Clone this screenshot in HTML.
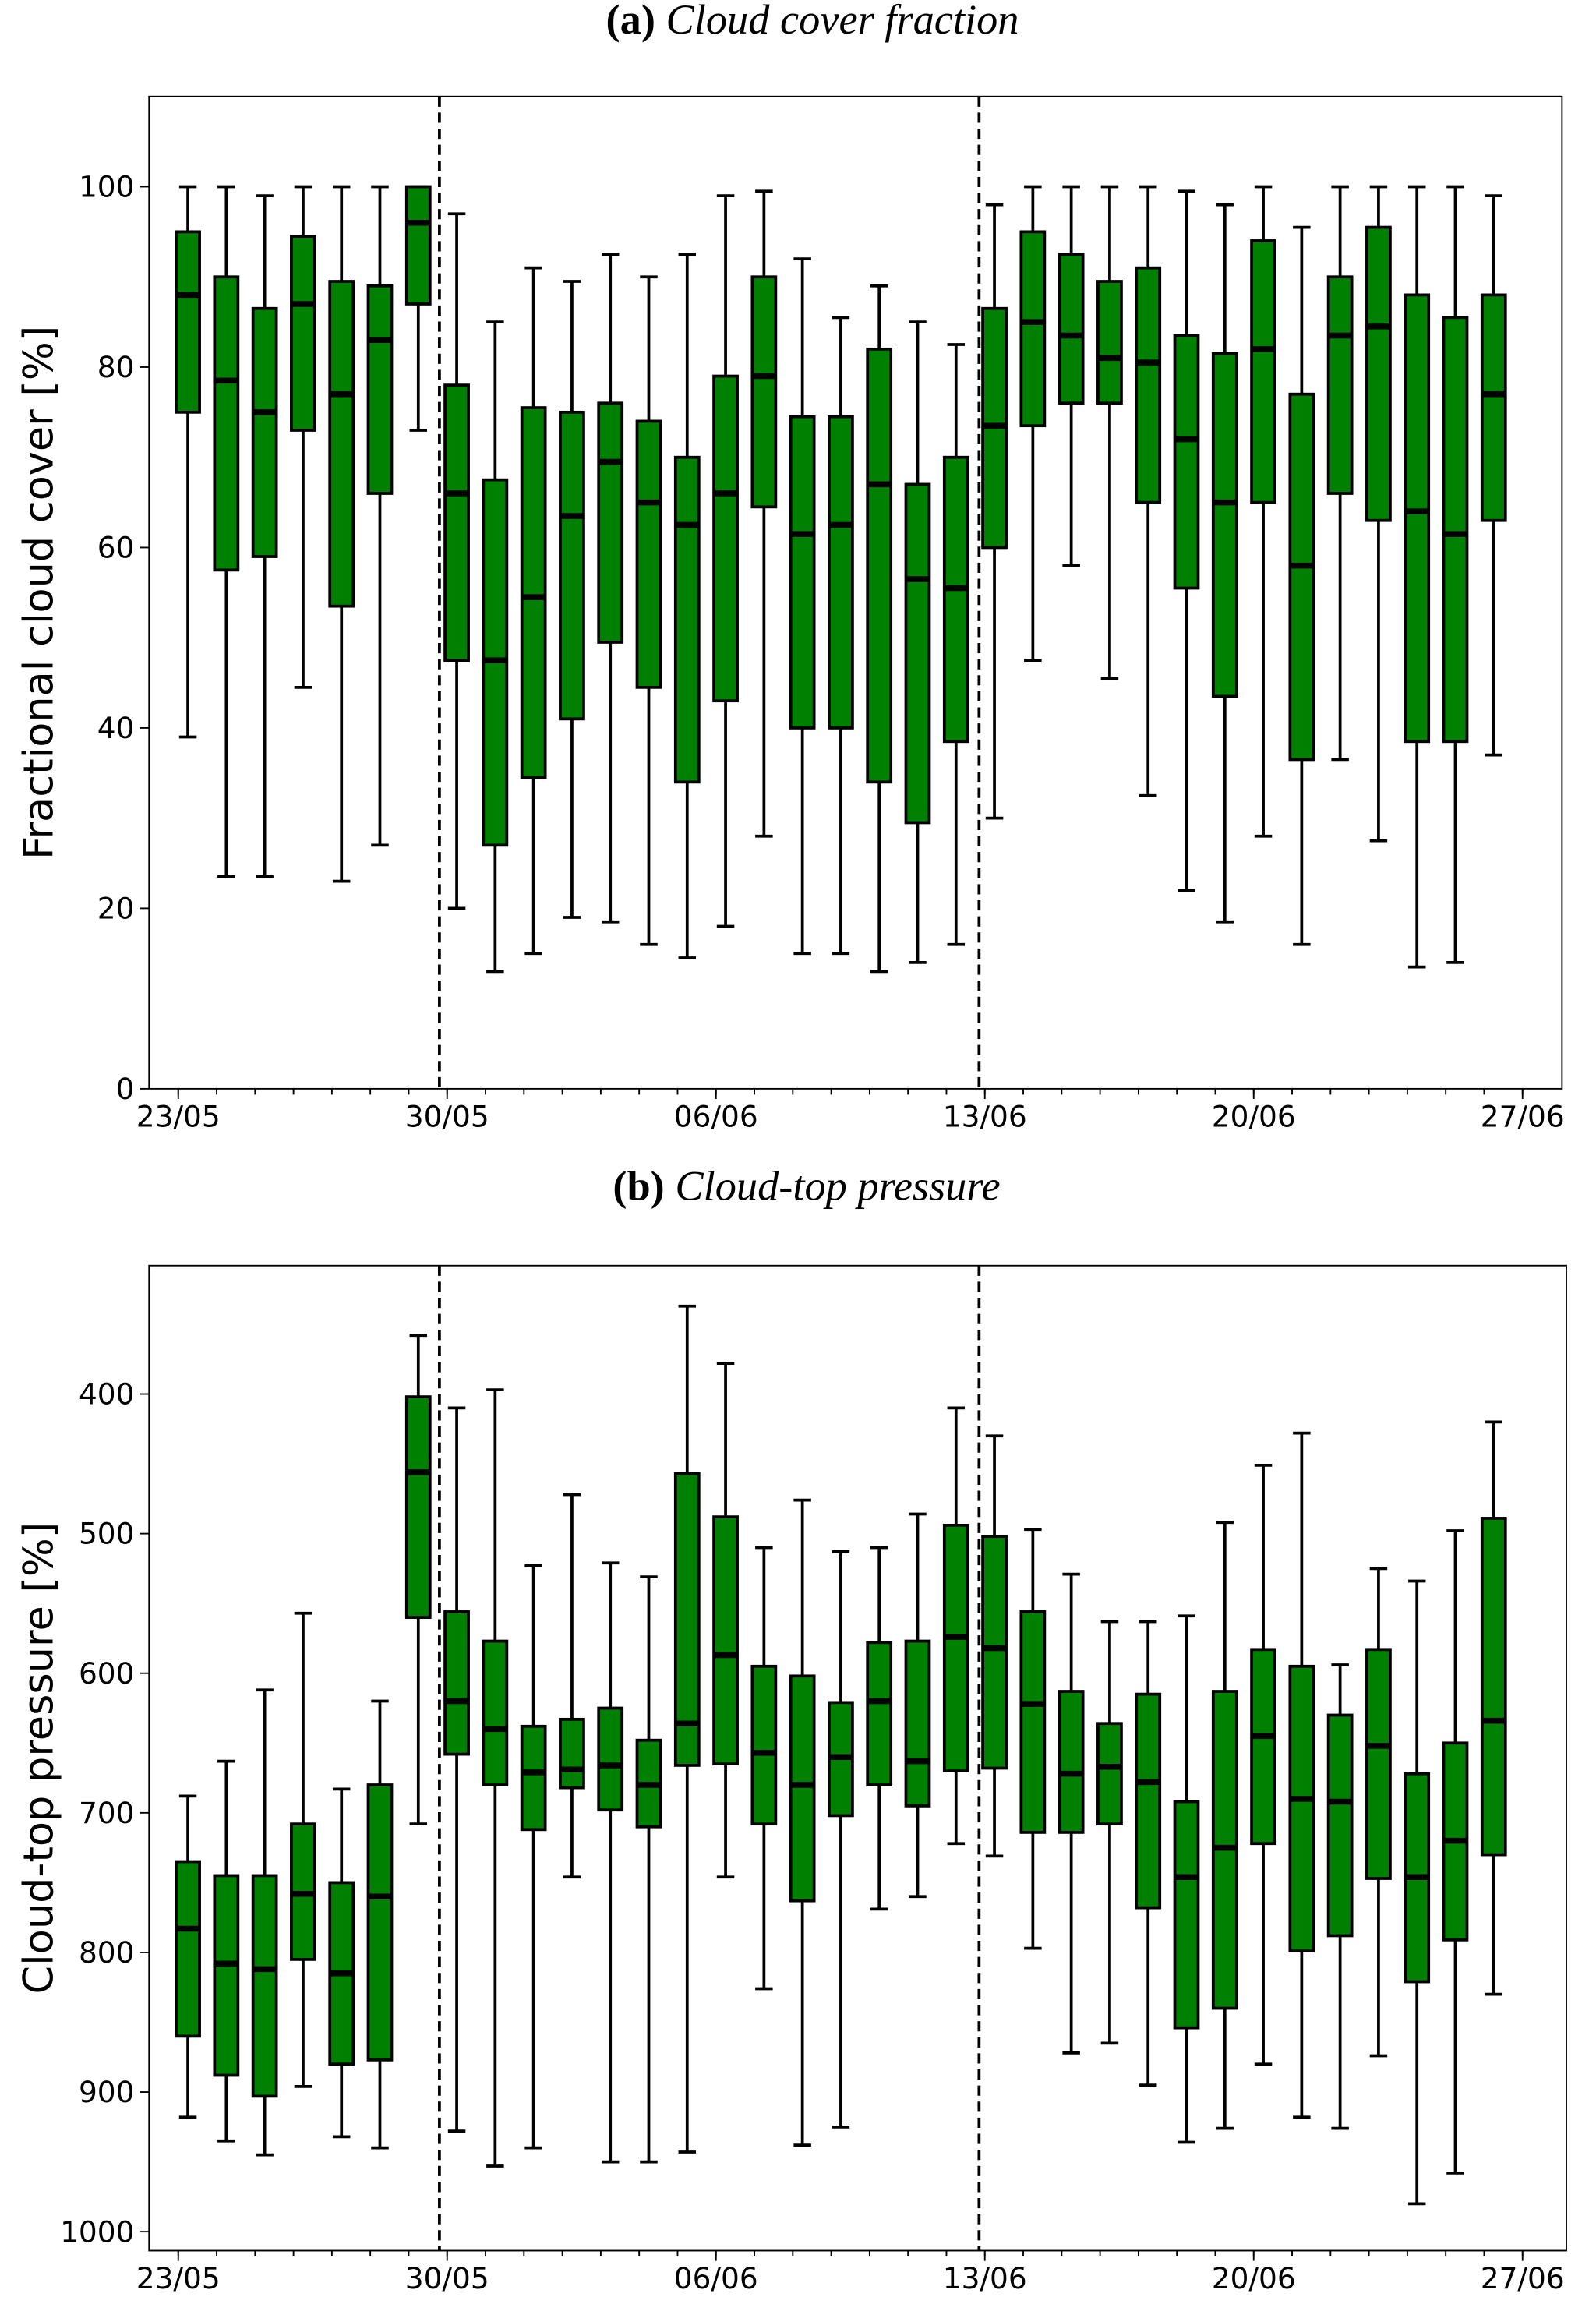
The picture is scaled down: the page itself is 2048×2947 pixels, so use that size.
<!DOCTYPE html>
<html><head><meta charset="utf-8"><style>
html,body{margin:0;padding:0;background:#fff}
svg{display:block}
text{font-family:"DejaVu Sans","Liberation Sans",sans-serif;fill:#000}
.ttl{font-family:"Liberation Serif",serif;font-size:29px}
</style></head><body>
<svg id="chart" width="2048" height="2947" viewBox="0 0 1092.27 1571.73" xmlns="http://www.w3.org/2000/svg">
<text class="ttl" x="556" y="23" text-anchor="middle"><tspan font-weight="bold">(a)</tspan> <tspan font-style="italic">Cloud cover fraction</tspan></text>
<text class="ttl" x="552" y="821" text-anchor="middle"><tspan font-weight="bold">(b)</tspan> <tspan font-style="italic">Cloud-top pressure</tspan></text>
</svg>
<script>
const tickLabels=["23/05","30/05","06/06","13/06","20/06","27/06"];
const tickDays=[0,7,14,21,28,35];
const dividerDays=[6.8,20.85];
// panel a: [whislo, q1, median, q3, whishi]
const coverLo=[39,23.5,23.5,44.5,23,27,73,20,13,15,19,18.5,16,14.5,18,28,15,15,13,14,16,30,47.5,58,45.5,32.5,22,18.5,28,16,36.5,27.5,13.5,14,37];
const coverQ1=[75,57.5,59,73,53.5,66,87,47.5,27,34.5,41,49.5,44.5,34,43,64.5,40,40,34,29.5,38.5,60,73.5,76,76,65,55.5,43.5,65,36.5,66,63,38.5,38.5,63];
const coverMed=[88,78.5,75,87,77,83,96,66,47.5,54.5,63.5,69.5,65,62.5,66,79,61.5,62.5,67,56.5,55.5,73.5,85,83.5,81,80.5,72,65,82,58,83.5,84.5,64,61.5,77];
const coverQ3=[95,90,86.5,94.5,89.5,89,100,78,67.5,75.5,75,76,74,70,79,90,74.5,74.5,82,67,70,86.5,95,92.5,89.5,91,83.5,81.5,94,77,90,95.5,88,85.5,88];
const coverHi=[100,100,99,100,100,100,100,97,85,91,89.5,92.5,90,92.5,99,99.5,92,85.5,89,85,82.5,98,100,100,100,100,99.5,98,100,95.5,100,100,100,100,99];
// panel b (pressure, inverted axis)
const presTop=[688,663,612,557,683,620,358,410,397,523,472,521,531,337,378,510,476,513,510,486,410,430,497,529,563,563,559,492,451,428,594,525,534,498,420];
const presQ3=[735,745,745,708,750,680,402,556,577,638,633,625,648,457,488,595,602,621,578,577,494,502,556,613,636,615,692,613,583,595,630,583,672,650,489];
const presMed=[783,808,812,758,815,760,456,620,640,671,669,666,680,636,587,657,680,660,620,663,574,582,622,672,667,678,746,725,645,690,692,652,746,720,634];
const presQ1=[860,888,903,805,880,877,560,658,680,712,682,698,710,666,665,708,763,702,680,695,670,668,714,714,708,768,854,840,722,799,788,747,821,791,730];
const presBot=[918,935,945,896,932,940,708,928,953,940,746,950,950,943,746,826,938,925,769,760,722,731,797,872,865,895,936,926,880,918,926,874,980,958,830];
const yTicksA=[0,20,40,60,80,100];
const yTicksB=[400,500,600,700,800,900,1000];

const NS="http://www.w3.org/2000/svg";
const svg=document.getElementById('chart');
function mk(tag,attrs,parent){const e=document.createElementNS(NS,tag);for(const k in attrs)e.setAttribute(k,attrs[k]);(parent||svg).appendChild(e);return e;}
function xScale(){const d0=122,d35=1042;return d=>d0+(d35-d0)*d/35;}

function panel(cfg){
  const g=mk('g',{});
  
  
  const x=xScale();
  const y=v=>cfg.bot+(v-cfg.vmin)*(cfg.top-cfg.bot)/(cfg.vmax-cfg.vmin);
  for(let i=0;i<cfg.med.length;i++){
    const cx=x(i+0.25),w=8;
    const bg=mk('g',{},g);
    
    
    mk('line',{x1:cx,x2:cx,y1:y(cfg.hi[i]),y2:y(cfg.q3[i]),stroke:'#000','stroke-width':2},bg);
    mk('line',{x1:cx,x2:cx,y1:y(cfg.lo[i]),y2:y(cfg.q1[i]),stroke:'#000','stroke-width':2},bg);
    mk('line',{x1:cx-6,x2:cx+6,y1:y(cfg.hi[i]),y2:y(cfg.hi[i]),stroke:'#000','stroke-width':2},bg);
    mk('line',{x1:cx-6,x2:cx+6,y1:y(cfg.lo[i]),y2:y(cfg.lo[i]),stroke:'#000','stroke-width':2},bg);
    const a=y(cfg.q3[i]),b=y(cfg.q1[i]);
    mk('rect',{x:cx-w,y:Math.min(a,b),width:2*w,height:Math.abs(b-a),fill:'#008000',stroke:'#000','stroke-width':2},bg);
    mk('line',{x1:cx-w,x2:cx+w,y1:y(cfg.med[i]),y2:y(cfg.med[i]),stroke:'#000','stroke-width':4},bg);
  }
  dividerDays.forEach((d,k)=>{
    const l=mk('line',{x1:x(d),x2:x(d),y1:cfg.top,y2:cfg.bot,stroke:'#000','stroke-width':2,'stroke-dasharray':'7,4'},g);
    
    
  });
  const fr=mk('rect',{x:cfg.L,y:cfg.top,width:cfg.R-cfg.L,height:cfg.bot-cfg.top,fill:'none',stroke:'#000','stroke-width':1},g);
  
  
  cfg.yticks.forEach(v=>{
    const yy=y(v);
    mk('line',{x1:cfg.L-6,x2:cfg.L,y1:yy,y2:yy,stroke:'#000','stroke-width':1},g);
    const t=mk('text',{x:cfg.L-10,y:yy+7,'text-anchor':'end','font-size':20},g);
    t.textContent=v;
    
    
  });
  for(let d=0;d<=35;d++){
    const xx=x(d);
    mk('line',{x1:xx,x2:xx,y1:cfg.bot,y2:cfg.bot+4,stroke:'#000','stroke-width':1},g);
  }
  tickDays.forEach((d,k)=>{
    const xx=x(d);
    mk('line',{x1:xx,x2:xx,y1:cfg.bot,y2:cfg.bot+7,stroke:'#000','stroke-width':1},g);
    const t=mk('text',{x:xx,y:cfg.bot+26,'text-anchor':'middle','font-size':20},g);
    t.textContent=tickLabels[k];
    
    
  });
  const yl=mk('text',{x:0,y:0,'text-anchor':'middle','font-size':28,transform:`translate(36,${(cfg.top+cfg.bot)/2}) rotate(-90)`},g);
  yl.textContent=cfg.ylabel;
  
  
}
panel({name:'panel-cloud-cover',L:102,R:1069,top:66,bot:745,vmin:0,vmax:110,yticks:yTicksA,
  lo:coverLo,q1:coverQ1,med:coverMed,q3:coverQ3,hi:coverHi,ylabel:'Fractional cloud cover [%]'});
panel({name:'panel-cloud-top-pressure',L:102,R:1072,top:866,bot:1540,vmin:1013.6,vmax:308,yticks:yTicksB,
  lo:presBot,q1:presQ1,med:presMed,q3:presQ3,hi:presTop,ylabel:'Cloud-top pressure [%]'});
</script>
</body></html>
